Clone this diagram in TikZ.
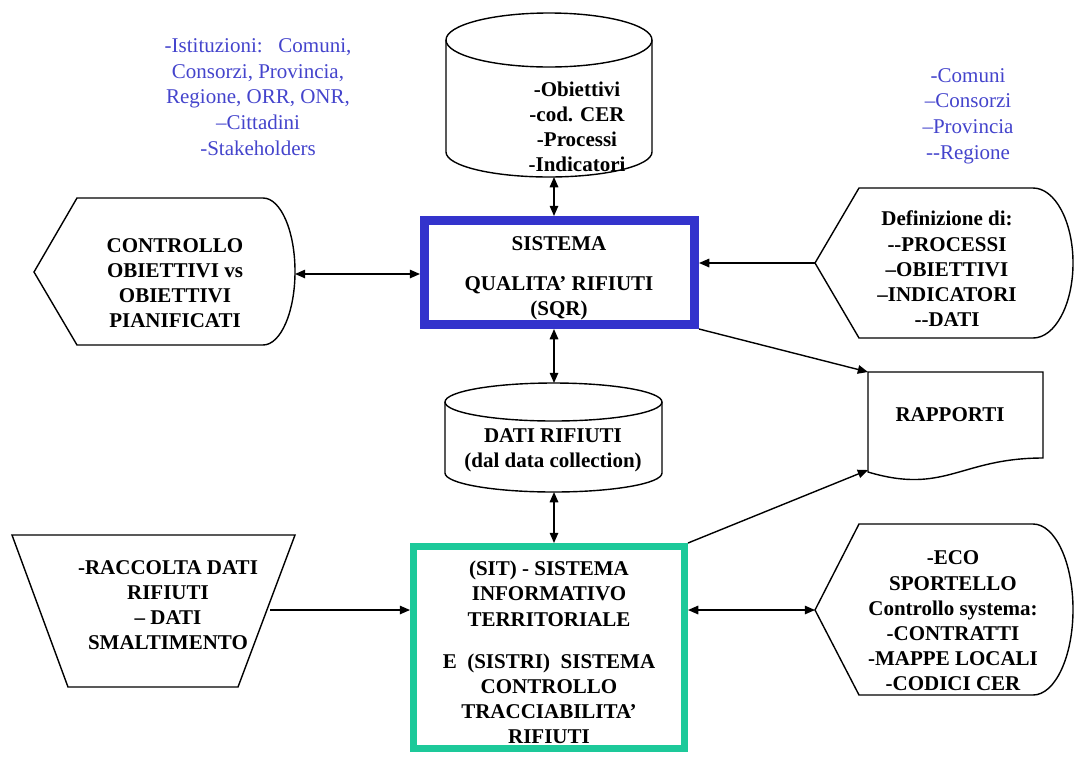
\documentclass[tikz,border=0pt]{standalone}
\usepackage{fontspec}
\setmainfont{Liberation Serif}
\usepackage{tikz}
\usetikzlibrary{calc,arrows.meta}
\definecolor{sqrblue}{HTML}{3333CC}
\definecolor{sitgreen}{HTML}{1DC99A}
\definecolor{txtblue}{HTML}{4444CC}
\tikzset{
  ar/.style={-{Triangle[length=1.8mm,width=1.5mm]},line width=0.7pt},
  dar/.style={{Triangle[length=1.8mm,width=1.5mm]}-{Triangle[length=1.8mm,width=1.5mm]},line width=0.7pt},
  shp/.style={draw,line width=0.7pt},
  lbl/.style={font=\bfseries\fontsize{10.5}{12.6}\selectfont,align=center,inner sep=0pt},
  blu/.style={font=\fontsize{10.5}{12.8}\selectfont,align=center,text=txtblue,inner sep=0pt},
  sqrbox/.style={draw=sqrblue,line width=4.5pt,minimum width=135pt,minimum height=52pt,inner sep=0pt},
  sitbox/.style={draw=sitgreen,line width=3.5pt,minimum width=135.5pt,minimum height=101pt,inner sep=0pt}
}

\begin{document}
\begin{tikzpicture}[x=0.5pt,y=-0.5pt]
\useasboundingbox (0,0) rectangle (1075,756);
% blue lists
\node[blu] (ist) at (258,97) {-Istituzioni:\ \ \ Comuni,\\Consorzi, Provincia,\\Regione, ORR, ONR,\\–Cittadini\\-Stakeholders};
\node[blu] (reg) at (968,116) {-Comuni\\–Consorzi\\–Provincia\\-{}-Regione};
% top cylinder
\draw[shp] (549,40) ellipse[x radius=103,y radius=27];
\draw[shp] (446,40) -- (446,152) arc[start angle=180,end angle=0,x radius=103,y radius=25] -- (652,40);
\node[lbl] (obj) at (577,127) {-Obiettivi\\-cod. CER\\-Processi\\-Indicatori};
\coordinate (db1) at (554,177);
% middle cylinder
\draw[shp] (553.5,402) ellipse[x radius=108.5,y radius=19];
\draw[shp] (445,402) -- (445,473) arc[start angle=180,end angle=0,x radius=108.5,y radius=19] -- (662,402);
\node[lbl] (dat) at (553,450) {DATI RIFIUTI\\(dal data collection)};
\coordinate (db2t) at (554,383); \coordinate (db2b) at (554,492);
% display shapes
\draw[shp] (34,272) -- (77,198) -- (263,198) arc[start angle=-90,end angle=90,x radius=32,y radius=73.5] -- (77,345) -- cycle;
\node[lbl] (cob) at (175,283) {CONTROLLO\\OBIETTIVI vs\\OBIETTIVI\\PIANIFICATI};
\coordinate (ctl) at (295,274);
\draw[shp] (815,263) -- (859,188) -- (1033,188) arc[start angle=-90,end angle=90,x radius=40,y radius=75] -- (859,338) -- cycle;
\node[lbl] (dfn) at (947,269) {Definizione di:\\-{}-PROCESSI\\–OBIETTIVI\\–INDICATORI\\-{}-DATI};
\coordinate (def) at (815,263);
\draw[shp] (815,610) -- (859,524) -- (1033,524) arc[start angle=-90,end angle=90,x radius=40,y radius=85.5] -- (859,695) -- cycle;
\node[lbl] (ecs) at (953,621) {-ECO\\SPORTELLO\\Controllo systema:\\-CONTRATTI\\-MAPPE LOCALI\\-CODICI CER};
\coordinate (eco) at (815,610);
% document
\draw[shp] (868,372) -- (1043,372) -- (1043,458) .. controls (960,458) and (945,495) .. (868,472) -- cycle;
\node[lbl] (rap) at (950,415) {RAPPORTI};
\coordinate (rapt) at (868,372); \coordinate (rapb) at (868,470);
% trapezoid
\draw[shp] (12,535) -- (295,535) -- (238,687) -- (68,687) -- cycle;
\node[lbl] (rdt) at (168,605) {-RACCOLTA DATI\\RIFIUTI\\– DATI\\SMALTIMENTO};
\coordinate (rac) at (270,610);
% main boxes
\node[sqrbox] (sqr) at (559.5,272.5) {};
\node[lbl] (sqt) at (559,278) {SISTEMA\\[7.4pt]QUALITA’ RIFIUTI\\(SQR)};
\node[sitbox] (sit) at (549,647.5) {};
\node[lbl] (stt) at (549,652.5) {(SIT) - SISTEMA\\INFORMATIVO\\TERRITORIALE\\[8.5pt]E\ \ (SISTRI)\ \ SISTEMA\\CONTROLLO\\TRACCIABILITA’\\RIFIUTI};
% connectors
\draw[dar] (db1) -- (db1 |- sqr.north);
\draw[dar] (ctl) -- (ctl -| sqr.west);
\draw[ar] (def) -- (def -| sqr.east);
\draw[dar] (db2t) -- (db2t |- sqr.south);
\draw[ar] (sqr.south east) -- (rapt);
\draw[dar] (db2b) -- (db2b |- sit.north);
\draw[ar] (sit.north east) -- (rapb);
\draw[ar] (rac) -- (rac -| sit.west);
\draw[dar] (eco -| sit.east) -- (eco);
\end{tikzpicture}
\end{document}
